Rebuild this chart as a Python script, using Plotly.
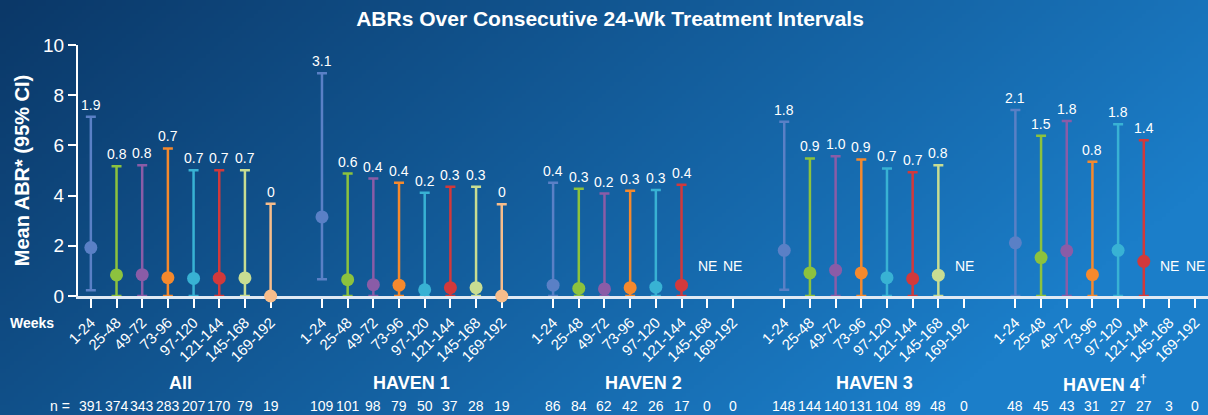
import base64
import struct
import zlib

import numpy as np
import plotly.graph_objects as go

# ---------------- data ----------------
categories = ["1-24", "25-48", "49-72", "73-96", "97-120", "121-144", "145-168", "169-192"]
groups = ["All", "HAVEN 1", "HAVEN 2", "HAVEN 3", "HAVEN 4<sup>†</sup>"]
colors = ["#5a80c6", "#8cc23e", "#8a5ca7", "#f5892d", "#38b2d4", "#d2393b", "#c8dd92", "#f7bd8b"]

all_mean = [1.93, 0.84, 0.85, 0.73, 0.70, 0.71, 0.72, 0.0]
all_label = ["1.9", "0.8", "0.8", "0.7", "0.7", "0.7", "0.7", "0"]
all_upper = [7.14, 5.17, 5.21, 5.88, 5.01, 5.01, 5.01, 3.68]
all_lower = [0.23, 0, 0, 0, 0, 0, 0, 0]
all_n = [391, 374, 343, 283, 207, 170, 79, 19]

h1_mean = [3.15, 0.65, 0.45, 0.43, 0.25, 0.33, 0.33, 0.0]
h1_label = ["3.1", "0.6", "0.4", "0.4", "0.2", "0.3", "0.3", "0"]
h1_upper = [8.87, 4.88, 4.68, 4.51, 4.11, 4.35, 4.35, 3.66]
h1_lower = [0.67, 0, 0, 0, 0, 0, 0, 0]
h1_n = [109, 101, 98, 79, 50, 37, 28, 19]

h2_mean = [0.43, 0.30, 0.28, 0.33, 0.35, 0.43, None, None]
h2_label = ["0.4", "0.3", "0.2", "0.3", "0.3", "0.4", "NE", "NE"]
h2_upper = [4.51, 4.27, 4.08, 4.19, 4.22, 4.43, None, None]
h2_lower = [0, 0, 0, 0, 0, 0, None, None]
h2_n = [86, 84, 62, 42, 26, 17, 0, 0]

h3_mean = [1.82, 0.92, 1.03, 0.92, 0.73, 0.69, 0.83, None]
h3_label = ["1.8", "0.9", "1.0", "0.9", "0.7", "0.7", "0.8", "NE"]
h3_upper = [6.94, 5.48, 5.57, 5.44, 5.08, 4.93, 5.21, None]
h3_lower = [0.25, 0, 0, 0, 0, 0, 0, None]
h3_n = [148, 144, 140, 131, 104, 89, 48, 0]

h4_mean = [2.12, 1.53, 1.80, 0.85, 1.82, 1.38, None, None]
h4_label = ["2.1", "1.5", "1.8", "0.8", "1.8", "1.4", "NE", "NE"]
h4_upper = [7.41, 6.38, 6.97, 5.35, 6.84, 6.21, None, None]
h4_lower = [0, 0, 0, 0, 0, 0, None, None]
h4_n = [48, 45, 43, 31, 27, 27, 3, 0]

means = [all_mean, h1_mean, h2_mean, h3_mean, h4_mean]
labels = [all_label, h1_label, h2_label, h3_label, h4_label]
uppers = [all_upper, h1_upper, h2_upper, h3_upper, h4_upper]
lowers = [all_lower, h1_lower, h2_lower, h3_lower, h4_lower]
ns = [all_n, h1_n, h2_n, h3_n, h4_n]

STRIDE = 9  # 8 intervals + 1 gap slot per group


def slot(g, i):
    return g * STRIDE + i


# ---------------- background gradient image ----------------
def gradient_png(w, h):
    dark = np.array([11, 56, 104], dtype=float)
    light = np.array([27, 126, 201], dtype=float)
    u = np.linspace(0, 1, w)[None, :]
    v = np.linspace(0, 1, h)[:, None]
    t = np.clip(0.85 * u + 0.35 * v, 0, 1)[..., None]
    img = (dark + (light - dark) * t).astype(np.uint8)
    raw = b"".join(b"\x00" + row.tobytes() for row in img)

    def chunk(tag, data):
        c = struct.pack(">I", len(data)) + tag + data
        return c + struct.pack(">I", zlib.crc32(tag + data) & 0xFFFFFFFF)

    png = b"\x89PNG\r\n\x1a\n"
    png += chunk(b"IHDR", struct.pack(">IIBBBBB", w, h, 8, 2, 0, 0, 0))
    png += chunk(b"IDAT", zlib.compress(raw, 9))
    png += chunk(b"IEND", b"")
    return "data:image/png;base64," + base64.b64encode(png).decode()


W, H = 1208, 415
ML, MR, MT, MB = 78, 0, 45, 119
PW, PH = W - ML - MR, H - MT - MB


def paper_y(px):
    return -(px - (MT + PH)) / PH


fig = go.Figure()

for i, cat in enumerate(categories):
    xs, ys, ep, em = [], [], [], []
    for g in range(len(groups)):
        m = means[g][i]
        if m is None:
            continue
        xs.append(slot(g, i))
        ys.append(m)
        ep.append(uppers[g][i] - m)
        em.append(m - lowers[g][i])
    fig.add_trace(go.Scatter(
        x=xs, y=ys, mode="markers", name=cat, showlegend=False,
        marker=dict(color=colors[i], size=13, line=dict(width=0)),
        error_y=dict(type="data", symmetric=False, array=ep, arrayminus=em,
                     color=colors[i], thickness=2.5, width=5),
        cliponaxis=False,
    ))

annotations = []
white = "white"
for g in range(len(groups)):
    for i in range(len(categories)):
        lab = labels[g][i]
        if lab == "NE":
            annotations.append(dict(x=slot(g, i), y=0, xref="x", yref="y", text="NE",
                                    showarrow=False, yshift=30, yanchor="middle",
                                    font=dict(size=14, color=white)))
        else:
            annotations.append(dict(x=slot(g, i), y=uppers[g][i], xref="x", yref="y", text=lab,
                                    showarrow=False, yanchor="bottom", yshift=2,
                                    font=dict(size=14, color=white)))
        annotations.append(dict(x=slot(g, i), y=paper_y(406), xref="x", yref="paper",
                                text=str(ns[g][i]), showarrow=False, yanchor="middle",
                                font=dict(size=14, color=white)))
    annotations.append(dict(x=slot(g, 3.5), y=paper_y(383), xref="x", yref="paper",
                            text="<b>" + groups[g] + "</b>", showarrow=False, yanchor="middle",
                            font=dict(size=18, color=white)))

annotations.append(dict(x=0, y=paper_y(406), xref="paper", yref="paper", text="n =",
                        showarrow=False, xanchor="right", yanchor="middle", xshift=-6,
                        font=dict(size=14, color=white)))
annotations.append(dict(x=0, y=paper_y(323), xref="paper", yref="paper",
                        text="<b>Weeks</b>", showarrow=False, xanchor="right", yanchor="middle",
                        xshift=-22, font=dict(size=14, color=white)))

tickvals = [slot(g, i) for g in range(len(groups)) for i in range(len(categories))]
ticktext = [c for _ in groups for c in categories]

fig.update_layout(
    width=W, height=H,
    margin=dict(l=ML, r=MR, t=MT, b=MB, pad=0),
    paper_bgcolor="#145f9f",
    plot_bgcolor="rgba(0,0,0,0)",
    font=dict(family="Liberation Sans, Arial, sans-serif", color=white),
    title=dict(text="<b>ABRs Over Consecutive 24-Wk Treatment Intervals</b>",
               x=0.505, xanchor="center", y=1 - 19 / H, yanchor="middle",
               font=dict(size=21, color=white)),
    annotations=annotations,
    images=[dict(source=gradient_png(302, 104), xref="paper", yref="paper",
                 x=-ML / PW, y=1 + MT / PH, sizex=W / PW, sizey=H / PH,
                 xanchor="left", yanchor="top", sizing="stretch", layer="below")],
    xaxis=dict(range=[-0.5, 43.5], tickvals=tickvals, ticktext=ticktext, tickangle=-45,
               ticks="outside", ticklen=9, tickwidth=2, tickcolor=white,
               showline=True, linecolor="#dfe9f4", linewidth=3, showgrid=False,
               zeroline=False, tickfont=dict(size=15, color=white), layer="below traces"),
    yaxis=dict(range=[0, 10], dtick=2, ticks="outside", ticklen=8, tickwidth=2,
               tickcolor=white, showline=True, linecolor=white, linewidth=2,
               showgrid=False, zeroline=False, tickfont=dict(size=19, color=white),
               title=dict(text="<b>Mean ABR* (95% CI)</b>", font=dict(size=20, color=white),
                          standoff=8),
               layer="below traces"),
)

fig.write_html("out.html")
